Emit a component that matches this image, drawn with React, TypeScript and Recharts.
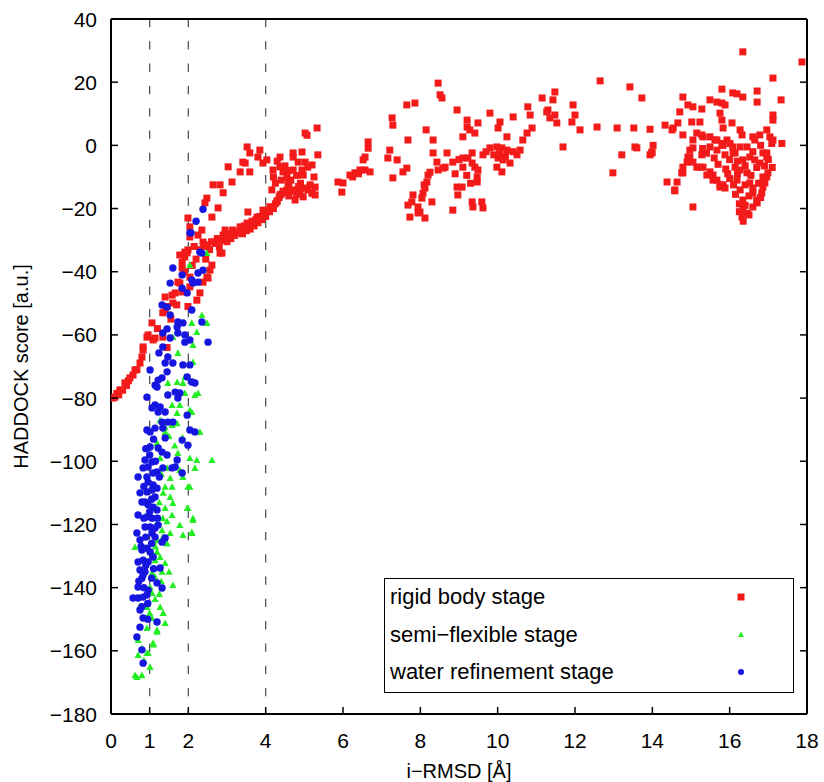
// HaddockScatter.tsx
import React from "react";
import {
  ScatterChart,
  Scatter,
  XAxis,
  YAxis,
  ReferenceLine,
  Legend,
} from "recharts";

const FONT = '"Liberation Sans", Arial, Helvetica, sans-serif';

// x = i-RMSD [Å], y = HADDOCK score [a.u.]
const rigidBody: [number, number][] = [
  // steep branch at low i-RMSD
  [0.05, -80], [0.1, -79.7], [0.15, -78.5], [0.2, -79], [0.23, -77.4], [0.3, -77.5],
  [0.36, -75.2], [0.4, -76], [0.45, -74.5], [0.49, -73.6], [0.57, -72.7], [0.62, -71.1],
  [0.67, -71], [0.75, -68.9], [0.8, -67], [0.83, -64.8], [0.83, -63.8], [0.93, -60.7],
  [0.96, -60], [1.06, -56.2], [1.09, -61.6], [1.14, -61], [1.34, -60.7], [1.45, -64],
  [1.34, -53], [1.4, -52], [1.45, -51], [1.4, -48], [1.58, -47.4], [1.66, -46.7],
  [1.6, -49.9], [1.73, -43.3], [1.78, -43.6], [1.84, -46.4], [1.84, -38.8], [1.84, -37],
  [1.78, -34.7], [1.91, -35.3], [1.97, -34], [1.99, -33.1], [2.04, -41.7], [2.04, -44.8],
  [1.99, -51], [2.22, -49], [2.3, -46.7], [2.38, -43.3], [2.48, -41.7], [2.51, -42],
  [2.56, -39.5], [2.61, -37.9], [2.87, -34.1], [2.82, -34.1], [2.3, -33], [2.74, -30.9],
  [2.9, -28.4], [2.25, -28.4], [2.38, -30.6], [1.91, -33.8], [1.99, -23], [2.04, -25.8],
  [2.04, -29], [2.35, -26.8], [2.43, -18.2], [2.48, -16.7], [2.61, -22.7], [2.77, -19.8],
  [2.1, -38], [2.2, -36], [2.15, -32], [1.9, -40], [1.7, -50.5], [1.55, -55], [1.2, -58],
  [2.45, -36],
  // dense band 2.4 - 5.3
  [2.4, -32], [2.5, -31.5], [2.55, -33], [2.6, -30.5], [2.7, -31], [2.75, -29.5],
  [2.8, -32], [2.85, -30], [2.95, -29], [3.0, -30.5], [3.05, -28], [3.1, -29.5],
  [3.15, -27], [3.2, -28.5], [3.3, -27.5], [3.35, -26], [3.4, -28], [3.45, -25.5],
  [3.5, -27], [3.55, -25], [3.6, -26.5], [3.65, -24], [3.7, -25.5], [3.75, -23.5],
  [3.8, -24.5], [3.85, -22.5], [3.9, -23.5], [3.95, -21.5], [4.0, -22.5], [4.05, -20.5],
  [4.1, -21], [4.15, -19.5], [4.2, -20], [4.25, -18.5], [4.3, -17.5], [4.35, -16.5],
  [4.4, -15.5], [4.45, -14.5], [4.5, -15], [4.55, -14.1], [4.6, -13], [4.7, -14.5],
  [4.76, -14.1], [4.85, -13], [4.97, -16.3], [5.09, -14.1], [5.2, -15.1], [5.28, -15.7],
  [5.28, -13.2], [4.76, -17.3], [4.89, -15.1], [3.08, -29], [3.34, -27.7], [3.65, -24.6],
  [3.54, -21.1], [2.95, -26.8], [3.15, -26.8], [3.34, -25.8], [3.52, -24.6], [3.78, -22.7],
  [3.93, -20.5], [4.11, -19.5], [4.29, -17.9], [4.37, -15.7], [4.6, -16], [4.8, -15.5],
  [4.9, -12], [5.0, -13.5], [5.15, -12.5], [5.25, -10], [4.65, -11], [4.8, -9.5],
  // upper loop
  [2.64, -12.5], [2.82, -12.5], [2.9, -15], [3.03, -6.8], [3.13, -11.6], [3.34, -8.4],
  [3.41, -5.3], [3.47, -5.6], [3.52, -0.5], [3.59, -2.4], [3.59, -8.4], [3.8, -3.7],
  [3.85, -1.5], [3.93, -5.6], [4.03, -4.6], [4.19, -7.8], [4.16, -14.1], [4.37, -6.8],
  [4.37, -3.7], [4.45, -8.4], [4.55, -10], [4.58, -11.9], [4.71, -2.4], [4.84, -5.3],
  [4.94, -7.8], [5.07, 3.2], [5.02, 3.9], [5.33, 5.5], [4.71, -3.7], [4.94, -2.1],
  [5.02, -5.3], [5.09, -6.9], [5.2, -6.2], [4.97, -9.4], [5.35, -3], [4.71, -7.8],
  [5.2, -15.1], [4.2, -10], [4.25, -12], [4.3, -5], [4.5, -6.5], [4.6, -8], [4.4, -11],
  // 5.8 - 7.9
  [5.87, -11.6], [5.97, -14.8], [6.0, -11.9], [6.18, -9.4], [6.31, -8.7], [6.44, -7.8],
  [6.57, -7.8], [6.7, -8.4], [6.52, -4.6], [6.57, -3.7], [6.65, -0.9], [6.65, 1.1],
  [7.21, -1.5], [7.16, -4], [7.4, -4.6], [7.27, 8.7], [7.29, 6.4], [7.68, 1.7],
  [7.65, -7.2], [7.55, -8.4], [7.29, -10.3], [7.65, 12.8], [7.86, 13.4], [6.25, -10],
  [6.4, -9],
  // 7.7 - 9.7
  [8.46, 19.7], [8.51, 16], [8.56, 15], [8.15, 4.9], [8.33, 1.7], [8.33, -2.4],
  [8.43, -5.3], [8.69, -2.4], [8.46, -7.8], [8.59, -7.2], [8.64, -6.9], [8.84, -5.3],
  [8.2, -9.4], [8.17, -11.6], [8.12, -13.5], [8.07, -15.1], [8.04, -16.7], [7.81, -15.7],
  [7.78, -17.9], [7.68, -18.9], [7.94, -19.5], [7.99, -21.1], [7.73, -22.7], [8.12, -23],
  [8.3, -17.9], [7.94, -21.4], [8.95, 11.2], [9.21, 8], [9.21, 5.8], [9.28, 4.9],
  [9.1, 2.7], [9.41, 3.9], [9.49, 7.1], [9.1, -4], [9.23, -4], [9.34, -5.6],
  [9.41, -6.9], [9.49, -7.8], [9.47, -10], [9.47, -11.6], [8.95, -13.2], [9.08, -13.2],
  [8.97, -15.7], [8.84, -20.5], [9.34, -17.9], [9.36, -19.5], [9.59, -17.9], [9.62, -19.8],
  [9.34, -2.4], [9.62, -3], [9.1, -6.9], [8.25, -8.5], [8.1, -12.5], [9.2, -9.5],
  [9.3, -12], [8.9, -9], [9.0, -4.5],
  // 9.7 - 11.3
  [9.8, 10.2], [10.06, 7.4], [10.01, 5.5], [10.24, 2.7], [10.4, 9], [9.8, -0.8],
  [9.98, -0.5], [10.11, -0.8], [10.01, -4], [10.14, -4.6], [10.24, -1.5], [9.98, -6.9],
  [10.11, -8.4], [10.32, -5.6], [10.5, -3], [10.58, -1.5], [10.65, 1.7], [10.76, 3.9],
  [10.89, 5.5], [10.84, 9.6], [10.78, 12.2], [11.15, 15], [11.3, 11.2], [9.7, -2],
  [9.9, -3], [10.05, -2.5], [10.2, -3.5], [10.4, -2],
  // 11.3 - 14
  [11.48, 16.9], [11.43, 14.4], [11.27, 10.6], [11.48, 9.6], [11.35, 8.7], [11.53, 7.1],
  [11.69, -0.5], [11.95, 12.8], [12.0, 9.6], [11.92, 7.4], [12.13, 4.9], [12.65, 20.4],
  [12.57, 5.8], [13.09, 5.5], [13.21, -3], [13.42, 18.5], [13.73, 15], [12.98, -8.7],
  [13.52, 5.5], [13.94, 5.1], [13.55, -0.5], [13.6, -0.8], [14.02, 0], [13.99, -2.1],
  [13.94, -3], [13.99, -2.4],
  // 14 - 18
  [14.38, -11.6], [14.64, -11.6], [14.58, -14.4], [14.33, 6.4], [14.54, 5.5], [14.66, 7.1],
  [14.51, 4.9], [14.79, 15.3], [14.71, 10.6], [14.92, 12.8], [15.05, 12.2], [15.28, 11.5],
  [14.79, 3.3], [15.02, 7.4], [15.23, 7.4], [15.05, -0.8], [14.97, -3.7], [14.9, -5.3],
  [14.79, -6.9], [14.79, -8.7], [15.05, 1.7], [15.15, 3.9], [15.31, 2.7], [15.28, -3],
  [15.15, -6.9], [15.31, -6.9], [15.49, -8.4], [15.57, -9.4], [15.67, -11], [15.75, -12.5],
  [15.88, -13.5], [15.49, 14.4], [15.67, 13.7], [15.8, 13.4], [15.88, 12.8], [15.75, 10.2],
  [15.8, 17.8], [16.08, 16.6], [16.19, 16.3], [16.34, 15.3], [16.71, 17.2], [16.71, 13.7],
  [17.12, 9.6], [17.12, 8], [17.33, 14.4], [15.8, 8], [16.06, 7.1], [15.83, 5.5],
  [16.27, 4.9], [16.32, 3.3], [16.45, -0.5], [16.6, 2.7], [16.65, 1.7], [16.78, 3.3],
  [16.96, 4.9], [17.04, 2.7], [17.12, 1.7], [17.35, 0.6], [16.86, -2.4], [16.96, -3.7],
  [15.93, 1.7], [15.8, 0.6], [15.62, 1.7], [15.49, -0.5], [15.67, -1.5], [15.88, -3],
  [16.08, -0.5], [16.14, -2.4], [16.34, 29.6], [17.87, 26.4], [17.12, 21.3], [15.05, -19.5],
  [16.32, -22.7], [16.34, -20.5], [16.6, -19.5], [16.7, -17.3], [16.83, -15.1], [16.91, -11.9],
  [16.96, -10], [16.27, -7.8], [16.19, -11], [16.27, -14.1], [16.34, -17.3], [16.45, -8.7],
  [16.52, -11.9], [16.6, -15.1], [16.71, -18.2], [16.78, -5.6], [16.86, -10], [16.86, -13.2],
  [16.65, -4.6], [16.52, -3.7], [16.34, -4.6], [16.14, -6.9], [16.09, -2.4], [16.01, 0.6],
  [16.27, -0.5], [15.75, -13.2], [15.83, -12.5], [15.57, -11], [15.41, -9.4], [15.23, -6.9],
  [15.05, -5.3], [14.92, -3.7], [14.97, -1.5], [15.28, 3.3], [15.49, 2.7], [15.67, 1.7],
  [15.83, 0], [17.09, 0.6], [16.96, -2.4], [16.99, -8.7], [14.76, -8.7], [14.58, -14.1],
  [16.2, -9], [16.4, -12.5], [16.5, -16], [16.4, -19], [16.25, -18.5], [16.15, -15.5],
  [16.2, -5], [16.4, -6.5], [16.55, -9.5], [16.7, -7], [16.75, -12], [16.6, -13.5],
  [16.45, -21.5], [16.25, -21], [16.35, -24], [16.5, -22], [16.8, -16.5], [16.1, -12.5],
  [16.0, -4.5], [15.95, -9], [15.6, -4], [15.4, -2.5], [15.3, -1], [15.7, -6],
  [15.9, -7.5], [16.0, -10.5], [16.6, -2], [16.8, 0], [16.9, -6.5], [17.0, -4.5], [17.1, -7],
];

const semiFlexible: [number, number][] = [
  [2.48, -34.1], [2.04, -37.9], [2.35, -53.7], [2.48, -56.2], [2.09, -56.2], [2.22, -59.1],
  [2.12, -63.2], [1.6, -60.7], [1.73, -65.7], [2.12, -68.6], [1.91, -73.3],
  [1.47, -75.2], [1.71, -74.9], [1.86, -75.2], [1.91, -78.4], [2.17, -79], [2.25, -78.4],
  [1.58, -82.2], [1.78, -82.2], [1.71, -84.7], [2.04, -83.8], [2.09, -84.4], [1.27, -87],
  [1.71, -88], [1.58, -88.5], [1.4, -89.2], [1.4, -90.7], [2.3, -90.7], [1.19, -94.2],
  [1.73, -97.4], [1.27, -99], [2.04, -99], [2.22, -99.6], [2.61, -99.6], [2.17, -102.1],
  [1.45, -102.1], [1.78, -102.8], [1.86, -105], [1.53, -105.3], [2.04, -108.1], [1.4, -108.1],
  [1.53, -111.3], [1.6, -113.2], [1.97, -114.8], [1.4, -114.8], [1.58, -117], [1.34, -118],
  [2.12, -118], [1.19, -119.5], [1.78, -120.2], [1.53, -122.7], [1.86, -123.3], [2.09, -122.7],
  [1.32, -121.8], [1.34, -124], [0.62, -127.1], [1.06, -128.7], [1.19, -128.7], [1.27, -130.3],
  [1.14, -131.3], [1.4, -132.2], [1.22, -133.8], [1.32, -135], [1.06, -135.4], [1.14, -136.6],
  [1.6, -139.2], [1.01, -139.8], [1.06, -141.7], [1.14, -143.6], [1.27, -146.1], [0.93, -146.1],
  [0.75, -145.8], [1.06, -149.6], [1.4, -151.2], [0.93, -152.8], [1.19, -153.4], [0.7, -156.6],
  [1.09, -157.5], [0.8, -159.1], [0.7, -161.3], [0.93, -160.7], [1.01, -165.1], [0.62, -167.7],
  [0.8, -167.7], [0.67, -168.3], [0.96, -160.7], [1.19, -154], [1.99, -108.1], [1.58, -108.1],
  [2.12, -118.6], [2.09, -122.4], [1.99, -114.8], [1.5, -92], [1.65, -95], [1.85, -92.5],
  [1.35, -110], [1.25, -113], [1.45, -126], [1.2, -125], [1.3, -138], [0.9, -142], [1.0, -148],
  [1.25, -142], [1.35, -148], [1.15, -127], [1.45, -119], [1.3, -104], [1.1, -158],
  [0.85, -163], [1.5, -135],
];

const waterRefinement: [number, number][] = [
  [2.38, -20.2], [2.2, -24], [2.04, -27.7], [2.35, -34.1], [2.07, -27.7], [2.3, -33.8],
  [1.6, -38.8], [1.84, -41], [2.25, -40.4], [2.38, -39.5], [1.53, -43.6], [2.09, -42.6],
  [2.12, -43.6], [2.25, -43.3], [1.84, -45.2], [1.97, -46.7], [1.32, -50.5], [1.45, -51.2],
  [2.09, -52.1], [1.53, -53.7], [2.35, -55.9], [1.73, -55.9], [1.71, -57.5], [1.86, -56.2],
  [1.45, -58.1], [1.34, -59.4], [1.73, -59.4], [1.91, -60], [2.04, -61.6], [1.53, -61],
  [1.91, -62.3], [2.51, -62.3], [1.34, -63.8], [1.47, -67], [1.24, -65.7], [1.6, -68.9],
  [1.4, -68.9], [1.86, -69.5], [2.04, -69.5], [1.01, -71.1], [1.45, -71.7], [1.32, -73.6],
  [1.22, -74.3], [1.14, -75.9], [1.19, -76.5], [0.93, -79.7], [1.47, -79], [1.66, -78.1],
  [1.78, -78.4], [1.73, -80], [1.97, -73.3], [2.09, -74.9], [2.17, -75.2], [1.06, -83.1],
  [1.14, -82.2], [1.27, -82.8], [1.4, -84.4], [1.22, -84.4], [1.32, -87.6], [1.47, -87.6],
  [1.6, -87.6], [1.34, -89.5], [1.14, -89.5], [0.93, -90.1], [1.01, -90.7], [1.4, -92.6],
  [1.84, -93.3], [1.97, -85.4], [2.04, -90.1], [2.17, -90.7], [1.99, -94.9], [1.01, -95.5],
  [1.22, -95.8], [1.32, -97.1], [1.45, -98], [1.71, -99.6], [0.88, -99.6], [1.06, -100.2],
  [0.96, -101.8], [0.83, -102.1], [0.7, -105], [0.93, -105], [1.09, -103.7], [1.19, -103.4],
  [1.34, -102.1], [1.58, -102.1], [1.66, -101.8], [1.84, -103.7], [0.96, -106.6], [1.09, -107.5],
  [1.19, -108.5], [1.06, -109.1], [0.93, -109.7], [1.14, -111.3], [0.88, -112.9], [0.8, -112.9],
  [0.96, -113.8], [1.09, -114.5], [1.19, -115.4], [0.7, -117], [0.93, -117.6], [1.06, -118],
  [0.67, -122.7], [0.88, -120.8], [1.01, -120.8], [1.14, -121.1], [1.22, -120.2], [1.06, -122.7],
  [1.14, -124], [1.32, -125.6], [1.4, -124.3], [0.75, -124.9], [0.8, -128.1], [0.93, -127.5],
  [1.01, -128.7], [1.09, -130.3], [0.7, -131.9], [0.83, -131.3], [0.96, -131.9], [0.75, -134.4],
  [0.88, -135], [0.83, -136], [1.27, -133.8], [0.8, -137], [1.19, -138.5], [0.7, -139.8],
  [0.96, -140.8], [1.32, -140.1], [0.57, -143.3], [0.7, -143.3], [0.83, -143], [0.93, -142.3],
  [0.75, -147.1], [0.83, -149.6], [1.19, -150.9], [0.75, -152.5], [0.67, -155.6], [0.8, -159.7],
  [0.83, -163.9], [1.0, -98], [1.15, -100], [0.85, -108], [1.0, -116], [0.9, -124], [1.05, -126],
  [0.85, -140], [1.05, -137], [0.95, -145], [0.75, -110], [0.85, -118], [0.78, -127],
  [0.9, -133], [1.1, -134], [0.72, -138], [0.95, -150], [0.8, -146], [1.05, -112],
  [1.2, -118], [1.25, -105], [0.9, -96], [1.1, -93],
];

const xTicks = [0, 1, 2, 4, 6, 8, 10, 12, 14, 16, 18];
const yTicks = [-180, -160, -140, -120, -100, -80, -60, -40, -20, 0, 20, 40];
const cutoffs = [1, 2, 4];

const legendItems = [
  { label: "rigid body stage", kind: "square", color: "#f31a1a" },
  { label: "semi\u2212flexible stage", kind: "triangle", color: "#22ee22" },
  { label: "water refinement stage", kind: "circle", color: "#1616e0" },
];

const toPoints = (pairs: [number, number][]) => pairs.map(([x, y]) => ({ x, y }));

const fmt = (v: number) => String(v).replace("-", "\u2212");

const Square = ({ cx, cy }: any) => (
  <rect x={cx - 3.5} y={cy - 3.5} width={7} height={7} fill="#f31a1a" />
);

const Triangle = ({ cx, cy }: any) => (
  <polygon
    points={`${cx - 3.6},${cy + 3} ${cx + 3.6},${cy + 3} ${cx},${cy - 3.6}`}
    fill="#22ee22"
  />
);

const Dot = ({ cx, cy }: any) => <circle cx={cx} cy={cy} r={3.7} fill="#1616e0" />;

const BottomTick = ({ x, y, payload }: any) => (
  <g>
    <line x1={x} x2={x} y1={y} y2={y - 7} stroke="#000" strokeWidth={1.5} />
    <text x={x} y={y + 34} textAnchor="middle" fontSize={21} fontFamily={FONT} fill="#000">
      {fmt(payload.value)}
    </text>
  </g>
);

const TopTick = ({ x, y }: any) => (
  <line x1={x} x2={x} y1={y} y2={y + 7} stroke="#000" strokeWidth={1.5} />
);

const LeftTick = ({ x, y, payload }: any) => (
  <g>
    <line x1={x} x2={x + 7} y1={y} y2={y} stroke="#000" strokeWidth={1.5} />
    <text x={x - 14} y={y + 7.5} textAnchor="end" fontSize={21} fontFamily={FONT} fill="#000">
      {fmt(payload.value)}
    </text>
  </g>
);

const RightTick = ({ x, y }: any) => (
  <line x1={x} x2={x - 7} y1={y} y2={y} stroke="#000" strokeWidth={1.5} />
);

const XTitle = ({ viewBox }: any) => (
  <text
    x={viewBox.x + viewBox.width / 2}
    y={viewBox.y + 64}
    textAnchor="middle"
    fontSize={20}
    fontFamily={FONT}
    fill="#000"
  >
    i{"\u2212"}RMSD [Å]
  </text>
);

const YTitle = ({ viewBox }: any) => {
  const cx = viewBox.x + 28;
  const cy = viewBox.y + viewBox.height / 2;
  return (
    <text
      x={cx}
      y={cy}
      transform={`rotate(-90 ${cx} ${cy})`}
      textAnchor="middle"
      fontSize={20}
      fontFamily={FONT}
      fill="#000"
    >
      HADDOCK score [a.u.]
    </text>
  );
};

const LegendSymbol = ({ kind, color }: { kind: string; color: string }) => (
  <svg width={10} height={10} style={{ position: "absolute", left: -5, top: -5 }}>
    {kind === "square" && <rect x={1.5} y={1.5} width={7} height={7} fill={color} />}
    {kind === "triangle" && <polygon points="2,8 8,8 5,2.5" fill={color} />}
    {kind === "circle" && <circle cx={5} cy={5} r={3} fill={color} />}
  </svg>
);

const LegendBox = () => (
  <div
    style={{
      width: 410,
      height: 115,
      boxSizing: "border-box",
      border: "1.5px solid #000",
      position: "relative",
      fontFamily: FONT,
      fontSize: 22,
      color: "#000",
    }}
  >
    {legendItems.map((item, i) => (
      <React.Fragment key={item.label}>
        <div
          style={{
            position: "absolute",
            left: 5,
            top: 5 + i * 37.5,
            lineHeight: "26px",
            whiteSpace: "nowrap",
          }}
        >
          {item.label}
        </div>
        <div style={{ position: "absolute", left: 355.5, top: 17.5 + i * 37.5 }}>
          <LegendSymbol kind={item.kind} color={item.color} />
        </div>
      </React.Fragment>
    ))}
  </div>
);

export default function App() {
  return (
    <div style={{ position: "absolute", left: 0, top: 0, width: 824, height: 782, background: "#fff" }}>
      <ScatterChart
        width={824}
        height={782}
        margin={{ top: 18, right: 16, bottom: 0, left: 0 }}
      >
        <XAxis
          dataKey="x"
          type="number"
          domain={[0, 18]}
          allowDataOverflow
          ticks={xTicks}
          interval={0}
          height={68}
          tickSize={0}
          tickMargin={0}
          tickLine={false}
          tick={<BottomTick />}
          axisLine={{ stroke: "#000", strokeWidth: 2 }}
          label={{ content: <XTitle /> }}
        />
        <XAxis
          xAxisId="top"
          orientation="top"
          type="number"
          domain={[0, 18]}
          allowDataOverflow
          ticks={xTicks}
          interval={0}
          height={1}
          tickSize={0}
          tickMargin={0}
          tickLine={false}
          tick={<TopTick />}
          axisLine={{ stroke: "#000", strokeWidth: 2 }}
        />
        <YAxis
          dataKey="y"
          type="number"
          domain={[-180, 40]}
          allowDataOverflow
          ticks={yTicks}
          interval={0}
          width={111}
          tickSize={0}
          tickMargin={0}
          tickLine={false}
          tick={<LeftTick />}
          axisLine={{ stroke: "#000", strokeWidth: 2 }}
          label={{ content: <YTitle /> }}
        />
        <YAxis
          yAxisId="right"
          orientation="right"
          type="number"
          domain={[-180, 40]}
          allowDataOverflow
          ticks={yTicks}
          interval={0}
          width={1}
          tickSize={0}
          tickMargin={0}
          tickLine={false}
          tick={<RightTick />}
          axisLine={{ stroke: "#000", strokeWidth: 2 }}
        />
        {cutoffs.map((c) => (
          <ReferenceLine
            key={c}
            segment={[
              { x: c, y: 40 },
              { x: c, y: -180 },
            ]}
            stroke="#555"
            strokeWidth={1.3}
            strokeDasharray="8.3 14"
          />
        ))}
        <Scatter
          name="rigid body stage"
          data={toPoints(rigidBody)}
          shape={<Square />}
          isAnimationActive={false}
        />
        <Scatter
          name="semi-flexible stage"
          data={toPoints(semiFlexible)}
          shape={<Triangle />}
          isAnimationActive={false}
        />
        <Scatter
          name="water refinement stage"
          data={toPoints(waterRefinement)}
          shape={<Dot />}
          isAnimationActive={false}
        />
        <Legend
          layout="vertical"
          align="center"
          verticalAlign="middle"
          content={<LegendBox />}
          wrapperStyle={{ left: 384, top: 578, width: 410, height: 115 }}
        />
      </ScatterChart>
    </div>
  );
}
